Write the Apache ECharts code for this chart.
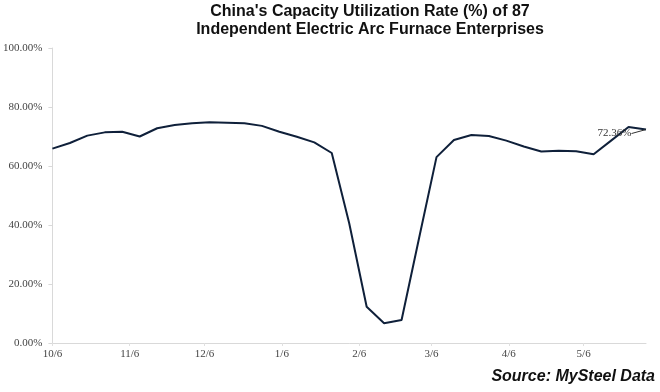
<!DOCTYPE html>
<html>
<head>
<meta charset="utf-8">
<script src="https://cdn.jsdelivr.net/npm/echarts@6/dist/echarts.min.js"></script>
<style>
html,body{margin:0;padding:0;background:#fff;}
#c{width:660px;height:392px;}
</style>
</head>
<body>
<div id="c"></div>
<script>
// Weekly observation dates
var dates = ['2023-10-06','2023-10-13','2023-10-20','2023-10-27','2023-11-03','2023-11-10','2023-11-17','2023-11-24',
  '2023-12-01','2023-12-08','2023-12-15','2023-12-22','2023-12-29','2024-01-05','2024-01-12','2024-01-19','2024-01-26',
  '2024-02-02','2024-02-09','2024-02-16','2024-02-23','2024-03-01','2024-03-08','2024-03-15','2024-03-22','2024-03-29',
  '2024-04-05','2024-04-12','2024-04-19','2024-04-26','2024-05-03','2024-05-10','2024-05-17','2024-05-24','2024-05-31'];
// Capacity utilization rate (%)
var rates = [65.9,67.8,70.3,71.4,71.6,70.0,72.8,73.9,74.5,74.8,74.7,74.5,73.6,71.6,69.9,68.0,64.4,
  40.6,12.3,6.7,7.8,35.5,63.0,68.8,70.5,70.2,68.6,66.6,64.9,65.2,65.0,64.0,68.6,73.2,72.36];
// X tick labels (dates shown on axis)
var tickDates = ['2023-10-06','2023-11-06','2023-12-06','2024-01-06','2024-02-06','2024-03-06','2024-04-06','2024-05-06'];
var tickLabels = ['10/6','11/6','12/6','1/6','2/6','3/6','4/6','5/6'];

var DAY = 86400000;
function ts(s){ var p = s.split('-'); return Date.UTC(+p[0], +p[1]-1, +p[2]); }
var t0 = ts(dates[0]);
function dayOf(s){ return Math.round((ts(s) - t0) / DAY); }
var tickDays = tickDates.map(dayOf);
var lastIdx = dates.length - 1;
var seriesData = dates.map(function(d,i){
  var item = {value:[dayOf(d), rates[i]]};
  if (i === lastIdx) {
    item.label = {show:true, position:'left', distance:2,
      formatter: rates[i].toFixed(2)+'%', fontFamily:'Liberation Serif', fontSize:11, color:'#333'};
    item.labelLine = {show:true, lineStyle:{color:'#333', width:1}};
  }
  return item;
});

var chart = echarts.init(document.getElementById('c'), null, {renderer:'canvas'});
chart.setOption({
  animation:false,
  backgroundColor:'#fff',
  title:[{
    text:"China's Capacity Utilization Rate (%) of 87\nIndependent Electric Arc Furnace Enterprises",
    left:365, top:-2, textAlign:'center',
    textStyle:{fontFamily:'Liberation Sans', fontWeight:'bold', fontSize:16, lineHeight:18, color:'#111'}
  },{
    text:'Source: MySteel Data', right:0, top:364,
    textStyle:{fontFamily:'Liberation Sans', fontWeight:'bold', fontStyle:'italic', fontSize:16, color:'#111'}
  }],
  grid:{left:51, right:14, top:48, bottom:49, containLabel:false},
  xAxis:{
    type:'value', min:0, max:dayOf(dates[lastIdx]),
    axisLine:{show:true, lineStyle:{color:'#d9d9d9', width:1}},
    axisTick:{show:true, customValues:tickDays, length:3, lineStyle:{color:'#e0e0e0'}},
    splitLine:{show:false},
    axisLabel:{customValues:tickDays, fontFamily:'Liberation Serif', fontSize:11, color:'#444', margin:6,
      formatter:function(v){ var i = tickDays.indexOf(Math.round(v)); return i>=0 ? tickLabels[i] : ''; }}
  },
  yAxis:{
    type:'value', min:0, max:100, interval:20,
    axisLine:{show:true, lineStyle:{color:'#d9d9d9', width:1}},
    axisTick:{show:true, length:4, lineStyle:{color:'#d9d9d9'}},
    splitLine:{show:false},
    axisLabel:{fontFamily:'Liberation Serif', fontSize:11, color:'#444', margin:10,
      formatter:function(v){ return v.toFixed(2)+'%'; }}
  },
  series:[{
    type:'line', data:seriesData, showSymbol:true, symbol:'circle', symbolSize:1,
    itemStyle:{color:'transparent', borderWidth:0},
    lineStyle:{color:'#0f203a', width:2},
    labelLayout:function(p){ return p.dataIndex === lastIdx ? {dx:-12, dy:4} : {}; }
  }]
});
</script>
</body>
</html>
